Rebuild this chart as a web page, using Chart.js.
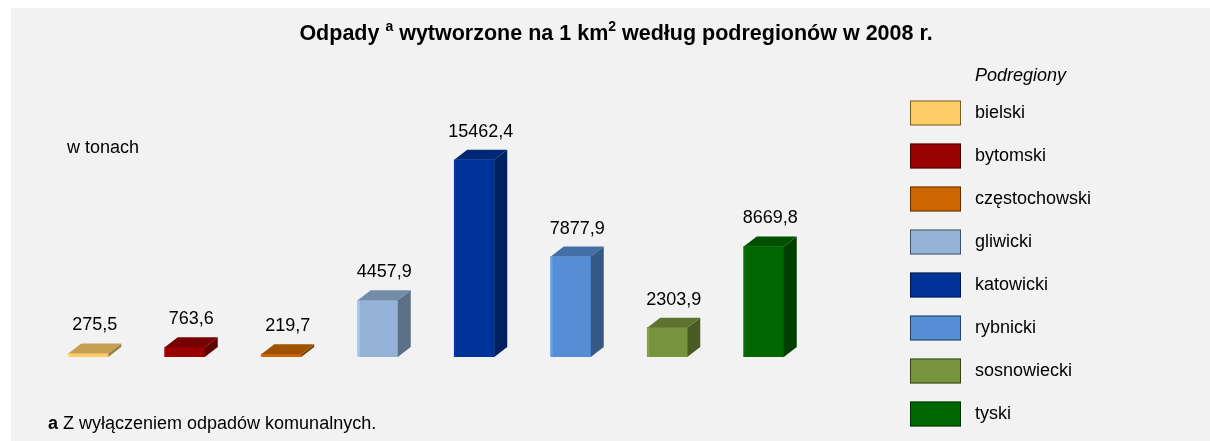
<!DOCTYPE html>
<html>
<head>
<meta charset="utf-8">
<script src="https://cdn.jsdelivr.net/npm/chart.js@4"></script>
<style>
  html, body { margin: 0; padding: 0; background: #fff; }
  #wrap { width: 1210px; height: 441px; }
</style>
</head>
<body>
<div id="wrap"><canvas id="chart"></canvas></div>
<script>
const categories = ["bielski", "bytomski", "częstochowski", "gliwicki", "katowicki", "rybnicki", "sosnowiecki", "tyski"];
const values = [275.5, 763.6, 219.7, 4457.9, 15462.4, 7877.9, 2303.9, 8669.8];
const colors = ["#ffcc66", "#990000", "#cc6600", "#95b3d7", "#003399", "#558ed5", "#77933c", "#006600"];

const FONT = "'Liberation Sans', Arial, sans-serif";
const DEPTH_X = 13;
const DEPTH_Y = 10;

function shade(hex, f) {
  const n = parseInt(hex.slice(1), 16);
  const c = s => Math.min(255, Math.round(((n >> s) & 255) * f));
  return `rgb(${c(16)},${c(8)},${c(0)})`;
}

function fmt(v) {
  return v.toFixed(1).replace(".", ",");
}

// grey panel behind everything
const panel = {
  id: "panel",
  beforeDraw(chart) {
    const { ctx, width, height } = chart;
    ctx.save();
    ctx.fillStyle = "#fff";
    ctx.fillRect(0, 0, width, height);
    ctx.fillStyle = "#f2f2f2";
    ctx.fillRect(11, 8, width - 11, height - 8);
    ctx.restore();
  }
};

// top and side faces + value labels
const bars3d = {
  id: "bars3d",
  afterDatasetsDraw(chart) {
    const { ctx } = chart;
    const meta = chart.getDatasetMeta(0);
    ctx.save();
    meta.data.forEach((bar, i) => {
      const { x, y, base, width } = bar.getProps(["x", "y", "base", "width"], true);
      const l = x - width / 2;
      const r = x + width / 2;
      // small highlight on the front's left edge
      ctx.fillStyle = shade(colors[i], 1.12);
      ctx.fillRect(l, y, 2, base - y);
      ctx.fillStyle = shade(colors[i], 0.62);
      ctx.beginPath();
      ctx.moveTo(r, y);
      ctx.lineTo(r + DEPTH_X, y - DEPTH_Y);
      ctx.lineTo(r + DEPTH_X, base - DEPTH_Y);
      ctx.lineTo(r, base);
      ctx.closePath();
      ctx.fill();
      ctx.fillStyle = shade(colors[i], 0.78);
      ctx.beginPath();
      ctx.moveTo(l, y);
      ctx.lineTo(l + DEPTH_X, y - DEPTH_Y);
      ctx.lineTo(r + DEPTH_X, y - DEPTH_Y);
      ctx.lineTo(r, y);
      ctx.closePath();
      ctx.fill();

      ctx.fillStyle = "#000";
      ctx.font = `18px ${FONT}`;
      ctx.textAlign = "center";
      ctx.textBaseline = "middle";
      ctx.fillText(fmt(values[i]), x + DEPTH_X / 2, y - DEPTH_Y - 18);
    });
    ctx.restore();
  }
};

// title, notes and legend
const decor = {
  id: "decor",
  afterDraw(chart) {
    const { ctx } = chart;
    ctx.save();
    ctx.fillStyle = "#000";
    ctx.textBaseline = "alphabetic";

    const parts = [
      ["Odpady ", 21.5, 0],
      ["a", 14, -9],
      [" wytworzone na 1 km", 21.5, 0],
      ["2", 14, -9],
      [" według podregionów w 2008 r.", 21.5, 0]
    ];
    let total = 0;
    parts.forEach(p => { ctx.font = `bold ${p[1]}px ${FONT}`; total += ctx.measureText(p[0]).width; });
    let tx = 616 - total / 2;
    ctx.textAlign = "left";
    parts.forEach(p => {
      ctx.font = `bold ${p[1]}px ${FONT}`;
      ctx.fillText(p[0], tx, 40 + p[2]);
      tx += ctx.measureText(p[0]).width;
    });

    ctx.textBaseline = "middle";
    ctx.font = `18px ${FONT}`;
    ctx.fillText("w tonach", 67, 148);

    ctx.font = `bold 18px ${FONT}`;
    ctx.fillText("a", 48, 424);
    const aw = ctx.measureText("a").width;
    ctx.font = `18px ${FONT}`;
    ctx.fillText(" Z wyłączeniem odpadów komunalnych.", 48 + aw, 424);

    ctx.font = `italic 18px ${FONT}`;
    ctx.fillText("Podregiony", 975, 76);

    ctx.font = `18px ${FONT}`;
    categories.forEach((c, i) => {
      const cy = 113 + 43 * i;
      ctx.fillStyle = colors[i];
      ctx.fillRect(910, cy - 12.5, 51, 25);
      ctx.strokeStyle = "rgba(0,0,0,0.55)";
      ctx.lineWidth = 1;
      ctx.strokeRect(910.5, cy - 12, 50, 24);
      ctx.fillStyle = "#000";
      ctx.fillText(c, 975, cy);
    });
    ctx.restore();
  }
};

new Chart(document.getElementById("chart"), {
  type: "bar",
  data: {
    labels: categories,
    datasets: [{
      data: values,
      backgroundColor: colors,
      borderWidth: 0,
      barThickness: 40
    }]
  },
  options: {
    responsive: true,
    maintainAspectRatio: false,
    animation: false,
    layout: { padding: { left: 40, right: 398, top: 102, bottom: 84 } },
    scales: {
      x: { display: false },
      y: { display: false, min: 0, max: 20000 }
    },
    plugins: {
      legend: { display: false },
      tooltip: { enabled: false }
    }
  },
  plugins: [panel, bars3d, decor]
});
</script>
</body>
</html>
